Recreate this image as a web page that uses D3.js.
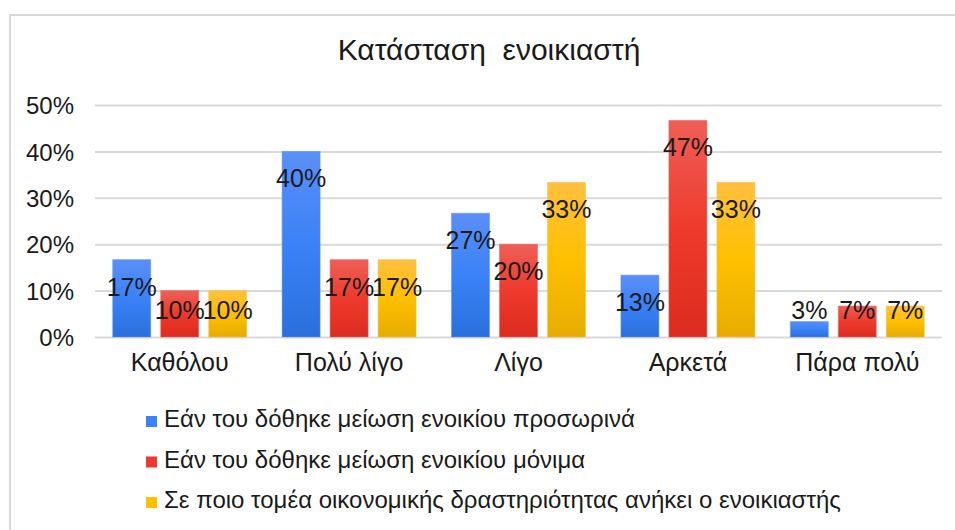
<!DOCTYPE html>
<html>
<head>
<meta charset="utf-8">
<script src="https://cdn.jsdelivr.net/npm/d3@7"></script>
<style>
  body { margin: 0; background: #fff; }
  text { font-family: Arial, "Liberation Sans", sans-serif; fill: #1a1a1a; }
</style>
</head>
<body>
<div id="chart"></div>
<script>
var categories = ["Καθόλου", "Πολύ λίγο", "Λίγο", "Αρκετά", "Πάρα πολύ"];
var seriesNames = [
    "Εάν του δόθηκε μείωση ενοικίου προσωρινά",
    "Εάν του δόθηκε μείωση ενοικίου μόνιμα",
    "Σε ποιο τομέα οικονομικής δραστηριότητας ανήκει ο ενοικιαστής"
];
var temporary = [0.1667, 0.40, 0.2667, 0.1333, 0.0333];
var permanent = [0.10, 0.1667, 0.20, 0.4667, 0.0667];
var sector = [0.10, 0.1667, 0.3333, 0.3333, 0.0667];
var yTicks = [0, 0.1, 0.2, 0.3, 0.4, 0.5];

var colors = [
    ["#5b8ff9", "#3a82f7", "#2a6fdd"],
    ["#ef5f57", "#ee3a2c", "#dc2b1f"],
    ["#ffc040", "#ffc000", "#e6ac00"]
];

var W = 955, H = 530;
var margin = { top: 105, right: 13, bottom: 193, left: 95 },
    width = W - margin.left - margin.right,
    height = H - margin.top - margin.bottom;

var svg = d3.select("#chart").append("svg")
    .attr("width", W)
    .attr("height", H);

// chart border
svg.append("rect")
    .attr("x", 10).attr("y", 15)
    .attr("width", W).attr("height", H)
    .attr("fill", "none")
    .attr("stroke", "#d9d9d9")
    .attr("stroke-width", 2);

var defs = svg.append("defs");
colors.forEach(function(c, i) {
    var g = defs.append("linearGradient")
        .attr("id", "grad" + i)
        .attr("x1", 0).attr("y1", 0).attr("x2", 0).attr("y2", 1);
    g.append("stop").attr("offset", "0%").attr("stop-color", c[0]);
    g.append("stop").attr("offset", "50%").attr("stop-color", c[1]);
    g.append("stop").attr("offset", "100%").attr("stop-color", c[2]);
});

svg.append("text")
    .attr("x", 489).attr("y", 60)
    .attr("text-anchor", "middle")
    .style("font-size", "30px")
    .style("white-space", "pre")
    .text("Κατάσταση  ενοικιαστή");

var g = svg.append("g")
    .attr("transform", "translate(" + margin.left + "," + margin.top + ")");

var x = d3.scaleBand()
    .domain(categories)
    .range([0, width]);

var xs = d3.scaleBand()
    .domain([0, 1, 2])
    .range([0, x.bandwidth()])
    .paddingInner(0.208)
    .paddingOuter(0.369);

var y = d3.scaleLinear()
    .domain([0, 0.5])
    .range([height, 0]);

// y axis with gridlines
var yAxis = g.append("g")
    .call(d3.axisLeft(y).tickValues(yTicks).tickSize(-width).tickFormat(d3.format(".0%")));
yAxis.select(".domain").remove();
yAxis.selectAll(".tick line")
    .attr("stroke", "#d9d9d9")
    .attr("stroke-width", 2);
yAxis.selectAll(".tick text")
    .attr("x", -21)
    .attr("dy", "0.36em")
    .style("font-size", "24px")
    .attr("fill", "#1a1a1a");

// x axis labels
var xAxis = g.append("g")
    .attr("transform", "translate(0," + height + ")")
    .call(d3.axisBottom(x).tickSize(0).tickPadding(16));
xAxis.select(".domain").remove();
xAxis.selectAll(".tick text")
    .style("font-size", "25px")
    .attr("fill", "#1a1a1a");

var data = [];
var series = [temporary, permanent, sector];
categories.forEach(function(cat, ci) {
    series.forEach(function(s, si) {
        data.push({ cat: cat, s: si, val: s[ci] });
    });
});

var groups = g.selectAll(".bar")
    .data(data)
    .enter().append("g")
    .attr("class", "bar")
    .attr("transform", function(d) { return "translate(" + (x(d.cat) + xs(d.s)) + ",0)"; });

groups.append("rect")
    .attr("x", 0)
    .attr("width", xs.bandwidth())
    .attr("y", function(d) { return y(d.val); })
    .attr("height", function(d) { return height - y(d.val); })
    .attr("fill", function(d) { return "url(#grad" + d.s + ")"; })
    .attr("stroke", function(d) { return colors[d.s][0]; })
    .attr("stroke-opacity", 0.5)
    .attr("stroke-width", 1);

groups.append("text")
    .attr("x", xs.bandwidth() / 2)
    .attr("y", function(d) { return Math.min(y(d.val) + 27, height - 27); })
    .attr("dy", "0.36em")
    .attr("text-anchor", "middle")
    .style("font-size", "25px")
    .text(function(d) { return Math.round(d.val * 100) + "%"; });

// legend
var legend = svg.selectAll(".legend")
    .data(seriesNames)
    .enter().append("g")
    .attr("class", "legend")
    .attr("transform", function(d, i) { return "translate(146," + (427 + i * 40.5) + ")"; });

legend.append("rect")
    .attr("x", 0).attr("y", -11)
    .attr("width", 11).attr("height", 11)
    .attr("fill", function(d, i) { return colors[i][1]; });

legend.append("text")
    .attr("x", 18)
    .attr("y", 0)
    .style("font-size", "24px")
    .text(function(d) { return d; });
</script>
</body>
</html>
